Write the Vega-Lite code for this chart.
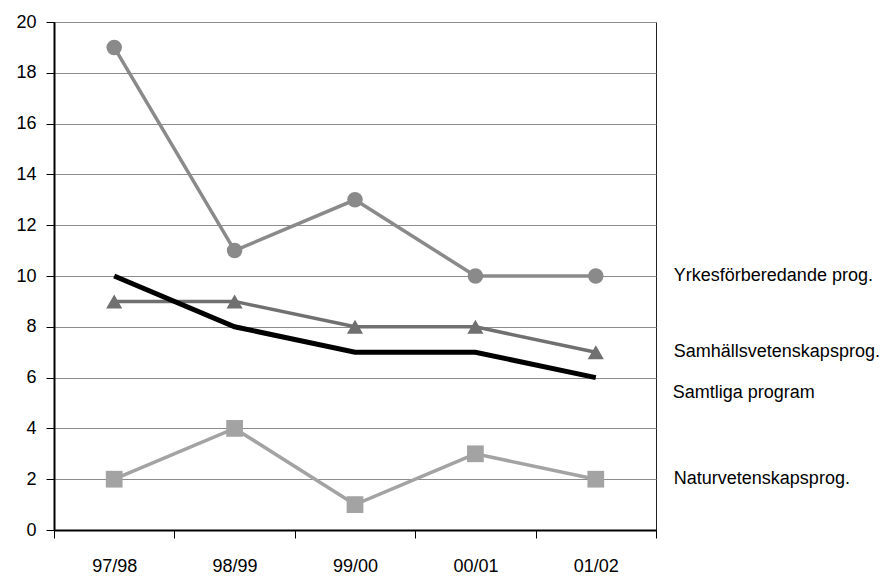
{
  "$schema": "https://vega.github.io/schema/vega-lite/v6.json",
  "width": 602,
  "height": 508,
  "autosize": {"type": "none"},
  "padding": {"left": 54, "top": 22, "right": 227, "bottom": 48},
  "background": "white",
  "config": {
    "view": {"stroke": "#222", "strokeWidth": 1},
    "font": "Liberation Sans",
    "axis": {"labelFont": "Liberation Sans", "labelFontSize": 18, "labelColor": "#000", "title": null}
  },
  "data": {
    "values": [
      {"year": "97/98", "series": "Yrkesförberedande prog.", "value": 19},
      {"year": "98/99", "series": "Yrkesförberedande prog.", "value": 11},
      {"year": "99/00", "series": "Yrkesförberedande prog.", "value": 13},
      {"year": "00/01", "series": "Yrkesförberedande prog.", "value": 10},
      {"year": "01/02", "series": "Yrkesförberedande prog.", "value": 10},
      {"year": "97/98", "series": "Samhällsvetenskapsprog.", "value": 9},
      {"year": "98/99", "series": "Samhällsvetenskapsprog.", "value": 9},
      {"year": "99/00", "series": "Samhällsvetenskapsprog.", "value": 8},
      {"year": "00/01", "series": "Samhällsvetenskapsprog.", "value": 8},
      {"year": "01/02", "series": "Samhällsvetenskapsprog.", "value": 7},
      {"year": "97/98", "series": "Samtliga program", "value": 10},
      {"year": "98/99", "series": "Samtliga program", "value": 8},
      {"year": "99/00", "series": "Samtliga program", "value": 7},
      {"year": "00/01", "series": "Samtliga program", "value": 7},
      {"year": "01/02", "series": "Samtliga program", "value": 6},
      {"year": "97/98", "series": "Naturvetenskapsprog.", "value": 2},
      {"year": "98/99", "series": "Naturvetenskapsprog.", "value": 4},
      {"year": "99/00", "series": "Naturvetenskapsprog.", "value": 1},
      {"year": "00/01", "series": "Naturvetenskapsprog.", "value": 3},
      {"year": "01/02", "series": "Naturvetenskapsprog.", "value": 2}
    ]
  },
  "encoding": {
    "x": {
      "field": "year", "type": "ordinal", "sort": null,
      "scale": {"paddingInner": 0, "paddingOuter": 0},
      "axis": {
        "labelAngle": 0, "tickBand": "extent", "domainColor": "#000", "domainWidth": 2,
        "tickColor": "#000", "tickWidth": 1, "tickSize": 8, "labelPadding": 19, "grid": false
      }
    },
    "y": {
      "field": "value", "type": "quantitative",
      "scale": {"domain": [0, 20], "nice": false},
      "axis": {
        "values": [0, 2, 4, 6, 8, 10, 12, 14, 16, 18, 20],
        "domainColor": "#000", "domainWidth": 2, "tickColor": "#000", "tickSize": 8,
        "labelPadding": 10, "grid": true, "gridColor": "#8c8c8c", "gridWidth": 1
      }
    }
  },
  "layer": [
    {
      "transform": [{"filter": "datum.series !== 'Samtliga program'"}],
      "mark": {"type": "line", "strokeWidth": 3.5},
      "encoding": {
        "color": {
          "field": "series", "type": "nominal", "legend": null,
          "scale": {"domain": ["Yrkesförberedande prog.", "Samhällsvetenskapsprog.", "Naturvetenskapsprog."], "range": ["#8a8a8a", "#707070", "#a3a3a3"]}
        }
      }
    },
    {
      "transform": [{"filter": "datum.series === 'Samtliga program'"}],
      "mark": {"type": "line", "strokeWidth": 5, "color": "#000"},
      "encoding": {}
    },
    {
      "transform": [{"filter": "datum.series !== 'Samtliga program'"}],
      "mark": {"type": "point", "filled": true, "opacity": 1},
      "encoding": {
        "color": {
          "field": "series", "type": "nominal", "legend": null,
          "scale": {"domain": ["Yrkesförberedande prog.", "Samhällsvetenskapsprog.", "Naturvetenskapsprog."], "range": ["#8a8a8a", "#666666", "#9e9e9e"]}
        },
        "shape": {
          "field": "series", "type": "nominal", "legend": null,
          "scale": {"domain": ["Yrkesförberedande prog.", "Samhällsvetenskapsprog.", "Naturvetenskapsprog."], "range": ["circle", "triangle-up", "square"]}
        },
        "size": {
          "field": "series", "type": "nominal", "legend": null,
          "scale": {"domain": ["Yrkesförberedande prog.", "Samhällsvetenskapsprog.", "Naturvetenskapsprog."], "range": [240, 280, 380]}
        }
      }
    },
    {
      "transform": [{"filter": "datum.year === '01/02' && datum.series !== 'Samtliga program'"}],
      "mark": {"type": "text", "align": "left", "baseline": "middle", "dx": 78, "fontSize": 18, "font": "Liberation Sans", "color": "#000"},
      "encoding": {"text": {"field": "series"}}
    },
    {
      "transform": [{"filter": "datum.year === '01/02' && datum.series === 'Samtliga program'"}],
      "mark": {"type": "text", "align": "left", "baseline": "middle", "dx": 77, "dy": 15, "fontSize": 18, "font": "Liberation Sans", "color": "#000"},
      "encoding": {"text": {"field": "series"}}
    }
  ]
}
